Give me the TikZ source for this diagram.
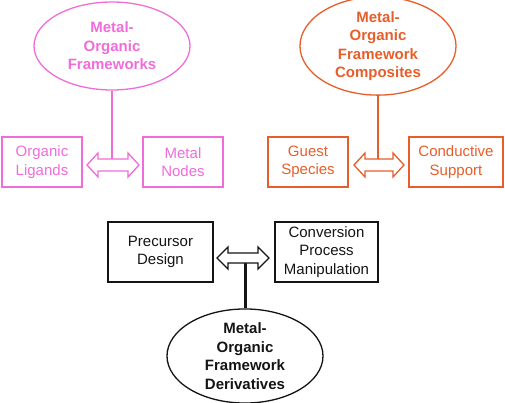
\documentclass[tikz,border=0pt]{standalone}
\usepackage{fontspec}
\setmainfont{Liberation Sans}
\usetikzlibrary{shapes.geometric}
\definecolor{mpink}{RGB}{240,108,218}
\definecolor{morange}{RGB}{230,94,42}
\definecolor{mblack}{RGB}{20,20,20}
\tikzset{
  ell/.style={ellipse, draw, line width=1.3pt, minimum width=156pt, minimum height=88pt, inner sep=0pt,
    font=\fontsize{15}{18.5}\selectfont\bfseries, align=center},
  box/.style={rectangle, draw, line width=1.2pt, inner sep=0pt,
    font=\fontsize{15}{18.5}\selectfont, align=center},
  darrow/.style={draw, fill=white, line width=1.3pt, line join=miter},
  stem/.style={line width=#1}
}
% double arrow outline around a named coordinate: #1 coordinate, #2 half length, #3 head length, #4 half head, #5 half shaft
\newcommand{\dblarrowpath}[5]{%
  \draw[darrow] (#1) ++(-#2,0) -- ++(#3,-#4) -- ++(0,#4-#5) -- ++(2*#2-2*#3,0) -- ++(0,#5-#4)
    -- ++(#3,#4) -- ++(-#3,#4) -- ++(0,#5-#4) -- ++(2*#3-2*#2,0) -- ++(0,#4-#5) -- cycle;}
\begin{document}
\begin{tikzpicture}[x=1pt,y=-1pt]
\useasboundingbox (0,0) rectangle (505,403);
% pink group
\begin{scope}[mpink, text=mpink]
\node[ell] (mof) at (112,46) {Metal-\\Organic\\Frameworks};
\node[box, minimum width=80pt, minimum height=50pt] (lig) at (42,162) {Organic\\Ligands};
\node[box, minimum width=80pt, minimum height=50pt] (nod) at (183,162) {Metal\\Nodes};
\coordinate (parr) at (113,165);
\draw[stem=2pt] (mof.south) -- (mof.south |- parr);
\dblarrowpath{parr}{26}{11}{12}{6}
\end{scope}
% orange group
\begin{scope}[morange, text=morange]
\node[ell] (comp) at (378,46) {Metal-\\Organic\\Framework\\Composites};
\node[box, minimum width=80pt, minimum height=50pt] (gue) at (308,162) {Guest\\Species};
\node[box, minimum width=94pt, minimum height=50pt] (sup) at (456,162) {Conductive\\Support};
\coordinate (oarr) at (379,165);
\draw[stem=2.4pt] (comp.south) -- (comp.south |- oarr);
\dblarrowpath{oarr}{25}{11}{12}{6}
\end{scope}
% black group
\begin{scope}[mblack, text=mblack]
\node[ell] (der) at (245,356) {Metal-\\Organic\\Framework\\Derivatives};
\node[box, minimum width=105pt, minimum height=60pt] (pre) at (160.5,252) {Precursor\\Design};
\node[box, minimum width=103pt, minimum height=60pt] (con) at (326.5,252) {Conversion\\Process\\Manipulation};
\coordinate (barr) at (243,258);
\draw[stem=3pt] (der.north) -- (der.north |- barr);
\dblarrowpath{barr}{26}{11}{11}{5}
\end{scope}
\end{tikzpicture}
\end{document}
